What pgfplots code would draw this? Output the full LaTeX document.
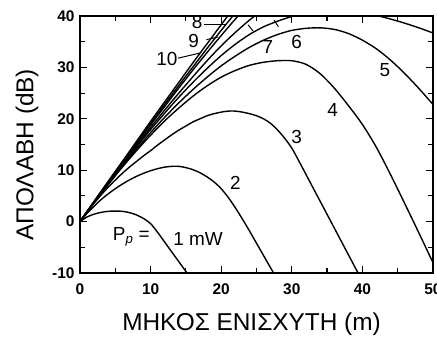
\documentclass[border=0pt]{standalone}
\usepackage{fontspec}
\setmainfont{Liberation Sans}
\usepackage{pgfplots}
\pgfplotsset{compat=1.18}
\pgfplotsset{curve/.style={black, solid, line width=1.4pt, smooth, mark=none}}
\begin{document}
\begin{tikzpicture}
\begin{axis}[
  at={(0,0)}, anchor=south west,
  scale only axis, width=353bp, height=257bp,
  xmin=0, xmax=50, ymin=-10, ymax=40,
  xtick={0,10,...,50}, xticklabels={0,10,20,30,40,50},
  ytick={-10,0,...,40}, yticklabels={-10,0,10,20,30,40},
  minor xtick={5,15,25,35,45}, minor ytick={-5,5,15,25,35},
  tick align=inside, major tick length=7bp, minor tick length=5bp,
  every tick/.style={black, line width=1.2pt},
  axis line style={line width=1.6pt},
  tick label style={font=\fontsize{15.5}{17}\selectfont\bfseries},
  xticklabel style={yshift=-7bp},
  yticklabel style={xshift=-2bp},
  xlabel={ΜΗΚΟΣ ΕΝΙΣΧΥΤΗ (m)}, ylabel={ΑΠΟΛΑΒΗ (dB)},
  label style={font=\fontsize{24.5}{27}\selectfont},
  xlabel style={at={(axis description cs:0.486,-0.2)}, anchor=center},
  ylabel style={at={(axis description cs:-0.150,0.46)}, anchor=center},
]
% 1 mW
\addplot[curve] coordinates {(0,0)(1,0.9)(2,1.45)(3,1.8)(4,2.0)(5,2.05)(6,2.0)(7,1.75)(8,1.3)(9,0.6)(10,-0.4)(11,-2.1)(12,-4.0)(13,-5.9)(14,-7.8)(15,-9.7)(15.5,-10.6)};
% 2 mW
\addplot[curve] coordinates {(0,0)(1,1.6)(2,3.0)(3,4.3)(4,5.4)(5,6.4)(6,7.3)(7,8.1)(8,8.8)(9,9.4)(10,9.9)(11,10.3)(12,10.6)(13,10.75)(14,10.75)(15,10.5)(16,10.1)(17,9.5)(18,8.7)(19,7.7)(20,6.4)(21,4.7)(22,2.7)(23,0.5)(24,-1.8)(25,-4.2)(26,-6.6)(27,-9.0)(28,-11.4)};
% 3 mW
\addplot[curve] coordinates {(0,0)(1,1.85)(2,3.6)(3,5.2)(4,6.7)(5,8.1)(6,9.4)(7,10.6)(8,11.7)(9,12.8)(10,13.8)(11,14.9)(12,15.9)(13,16.9)(14,17.8)(15,18.6)(16,19.4)(17,20.0)(18,20.6)(19,21.0)(20,21.3)(21,21.5)(22,21.5)(23,21.3)(24,21.0)(25,20.6)(26,20.0)(27,19.1)(28,17.8)(29,16.2)(30,14.3)(31,11.8)(32,9.2)(33,6.6)(34,4.0)(35,1.4)(36,-1.2)(37,-3.8)(38,-6.4)(39,-9.0)(40,-11.6)};
% 4 mW
\addplot[curve] coordinates {(0,0)(2,3.7)(4,7.2)(6,10.6)(8,13.8)(10,16.8)(12,19.6)(14,22.1)(16,24.4)(18,26.4)(20,28.1)(22,29.4)(24,30.4)(26,31.0)(28,31.3)(30,31.3)(32,30.6)(34,28.8)(36,26.0)(38,22.6)(40,18.9)(42,14.4)(44,9.1)(46,3.5)(48,-2.2)(50,-8.0)};
% 5 mW
\addplot[curve] coordinates {(0,0)(2,3.7)(4,7.3)(6,10.8)(8,14.1)(10,17.3)(12,20.3)(14,23.1)(16,25.7)(18,28.1)(20,30.3)(22,32.2)(24,33.9)(26,35.3)(28,36.4)(30,37.2)(32,37.6)(34,37.7)(36,37.4)(38,36.6)(40,35.3)(42,33.6)(44,31.4)(46,28.8)(48,25.9)(50,22.8)};
% 6 mW
\addplot[curve] coordinates {(0,0)(2,3.8)(4,7.4)(6,11.0)(8,14.5)(10,17.9)(12,21.1)(14,24.2)(16,27.1)(18,29.8)(20,32.3)(22,34.5)(24,36.4)(26,37.9)(28,39.0)(30,39.9)(32,40.5)(34,40.9)(36,41.0)(38,40.9)(40,40.6)(42,40.1)(44,39.4)(46,38.6)(48,37.7)(50,36.7)};
% 7 mW
\addplot[curve] coordinates {(0,0)(2,3.8)(4,7.5)(6,11.2)(8,14.8)(10,18.3)(12,21.7)(14,25.0)(16,28.2)(18,31.3)(20,34.2)(22,36.8)(24,39.2)(26,41.3)(28,43.2)};
% 8 mW
\addplot[curve] coordinates {(0,0)(2,3.85)(4,7.65)(6,11.4)(8,15.1)(10,18.8)(12,22.4)(14,26.0)(16,29.5)(18,32.9)(20,36.2)(22,39.4)(24,42.5)};
% 9 mW
\addplot[curve] coordinates {(0,0)(2,3.9)(4,7.75)(6,11.55)(8,15.3)(10,19.1)(12,22.8)(14,26.5)(16,30.1)(18,33.7)(20,37.2)(22,40.6)};
% 10 mW
\addplot[curve] coordinates {(0,0)(2,3.95)(4,7.85)(6,11.7)(8,15.6)(10,19.5)(12,23.3)(14,27.1)(16,30.9)(18,34.6)(20,38.3)(22,42.0)};

\begin{scope}[every node/.style={font=\fontsize{19}{21}\selectfont, inner sep=0pt}]
\node at (axis cs:16.6,38.8) {8};
\node at (axis cs:16.1,35.1) {9};
\node at (axis cs:12.3,31.6) {10};
\node at (axis cs:26.6,34.0) {7};
\node at (axis cs:30.7,35.0) {6};
\node at (axis cs:43.2,29.5) {5};
\node at (axis cs:35.8,21.7) {4};
\node at (axis cs:30.7,16.5) {3};
\node at (axis cs:22.0,7.6) {2};
\node[anchor=east] at (axis cs:9.9,-3.0) {P\textsubscript{\itshape p} =};
\node[anchor=west] at (axis cs:13.2,-3.3) {1 mW};
\end{scope}
\draw[line width=1pt] (axis cs:17.5,38.3) -- (axis cs:20.5,38.3);
\draw[line width=1pt] (axis cs:17.9,35.4) -- (axis cs:19.5,35.9);
\draw[line width=1pt] (axis cs:13.9,31.8) -- (axis cs:17.0,32.8);
\draw[line width=1pt] (axis cs:23.8,38.3) -- (axis cs:24.5,37.1);
\draw[line width=1pt] (axis cs:27.5,39.2) -- (axis cs:28.1,37.9);
\end{axis}
\pgfresetboundingbox
\path[use as bounding box] (-80bp,-64bp) rectangle (357bp,273bp);
\end{tikzpicture}
\end{document}
